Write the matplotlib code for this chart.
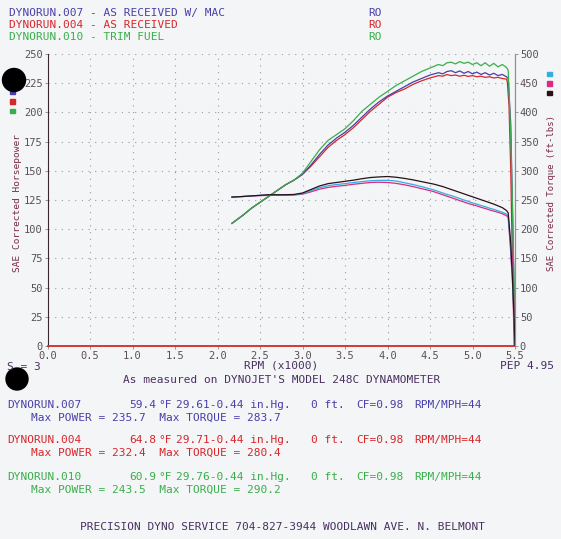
import matplotlib
matplotlib.use("Agg")
from matplotlib import pyplot as plt
from matplotlib.patches import Rectangle, Ellipse

W, H = 561, 539

# shared rpm grid (x1000) for the body of every run
rpm = [2.17, 2.3, 2.4, 2.5, 2.6, 2.7, 2.8, 2.9, 3.0, 3.1, 3.2, 3.3, 3.4, 3.5, 3.6, 3.7,
       3.8, 3.9, 4.0, 4.1, 4.2, 4.3, 4.4, 4.5, 4.55, 4.6, 4.65, 4.7, 4.75, 4.8, 4.85, 4.9,
       4.95, 5.0, 5.05, 5.1, 5.15, 5.2, 5.25, 5.3, 5.35, 5.4]

# horsepower
hp_007 = [105, 112, 118, 123, 128, 133, 138, 142, 147, 155, 164, 172, 178, 183, 189, 196,
          203, 209, 214, 218, 222, 226, 229, 232, 233, 234, 233, 235, 235.7, 234, 235.5, 233.5,
          235, 233, 234.5, 232.5, 234, 232, 233.5, 231.5, 232.5, 230.5]
hp_004 = [105, 112, 118, 123, 128, 133, 138, 142, 147, 154, 162, 170, 176, 181, 187, 194,
          201, 207, 213, 217, 220, 224, 227, 229.5, 230.5, 231.5, 231, 232.4, 231.5, 232, 231, 231.8,
          230.8, 231.5, 230.5, 231, 230, 230.5, 229.5, 230, 229, 228.5]
hp_010 = [105, 112, 118, 123, 128, 133, 138, 142, 148, 158, 168, 176, 181, 186, 193, 201,
          207, 213, 218, 223, 227, 231, 235, 238, 239.5, 241, 240, 242.5, 243, 241.5, 243.5, 242,
          243, 241, 242.5, 240, 242.5, 239.5, 242, 239, 241, 238.5]

# torque (ft-lbs)
tq_007 = [255, 256, 257, 258, 258.5, 258.5, 258.5, 259, 261, 266, 271, 274.5, 276.5, 278, 280, 281.5,
          283, 283.5, 283.7, 282.5, 279.5, 276.5, 273, 269, 267, 264.5, 262, 259.5, 257.5, 255, 252.5, 250,
          247.5, 245, 243, 240.5, 238.5, 236, 234, 231.5, 229, 226]
tq_004 = [255, 256, 257, 257.5, 258, 258, 258, 258.5, 260, 264, 268.5, 271.5, 273.5, 275, 277, 278.5,
          280, 280.4, 280, 278.5, 276, 273, 269.5, 266, 264, 261.5, 259, 256.5, 254, 251.5, 249, 246.5,
          244, 242, 240, 237.5, 235.5, 233, 231, 229, 226.5, 223]
tq_010 = [255, 256, 257, 258, 259, 259, 259, 259.5, 262, 268, 274, 278, 280, 282, 284, 286.5,
          288.5, 289.5, 290.2, 289, 287, 284.5, 281.5, 278.5, 277, 275, 273, 270.5, 268, 265.5, 263, 260.5,
          258, 255.5, 253, 250.5, 248, 245.5, 243, 240, 237, 232]

# end-of-pull drop off
hp_007_tail_rpm, hp_007_tail = [5.42, 5.45, 5.47, 5.49, 5.5], [229, 190, 120, 40, 0]
hp_004_tail_rpm, hp_004_tail = [5.41, 5.43, 5.45, 5.47, 5.49], [226, 205, 150, 70, 0]
hp_010_tail_rpm, hp_010_tail = [5.42, 5.45, 5.47, 5.49, 5.5], [236, 180, 120, 50, 0]
tq_007_tail_rpm, tq_007_tail = [5.42, 5.45, 5.47, 5.49, 5.5], [222, 170, 110, 40, 0]
tq_004_tail_rpm, tq_004_tail = [5.42, 5.45, 5.46, 5.47, 5.49, 5.5], [220, 160, 135, 150, 60, 0]
tq_010_tail_rpm, tq_010_tail = [5.42, 5.45, 5.47, 5.49, 5.5], [228, 175, 115, 45, 0]

x_ticks = [0.0, 0.5, 1.0, 1.5, 2.0, 2.5, 3.0, 3.5, 4.0, 4.5, 5.0, 5.5]
hp_ticks = list(range(0, 251, 25))
tq_ticks = list(range(0, 501, 50))

runs = ["DYNORUN.007", "DYNORUN.004", "DYNORUN.010"]
run_titles = ["AS RECEIVED W/ MAC", "AS RECEIVED", "TRIM FUEL"]
temps = ["59.4", "64.8", "60.9"]
baro = ["29.61-0.44 in.Hg.", "29.71-0.44 in.Hg.", "29.76-0.44 in.Hg."]
max_power = [235.7, 232.4, 243.5]
max_torque = [283.7, 280.4, 290.2]

C_BLUE, C_RED, C_GREEN = "#4a3fa8", "#d8262a", "#3aae4a"
C_CYAN, C_MAG, C_BLK = "#33aee0", "#dc2a82", "#2a1018"
C_TEXT = "#4a3060"
C_LAB = "#7a2a40"
C_TICK = "#5a5058"
BG = "#f3f5f7"
MONO = "DejaVu Sans Mono"


def fx(px):
    return px / W


def fy(py):
    return 1 - py / H


def ftext(x, y, s, color, size=8, **kw):
    fig.text(fx(x), fy(y), s, color=color, fontsize=size, family=MONO, va="center", **kw)


fig = plt.figure(figsize=(W / 100, H / 100), dpi=100, facecolor=BG)
ax = fig.add_axes([fx(47.5), fy(346), fx(515) - fx(47.5), fy(54) - fy(346)])
ax.set_facecolor(BG)
ax.set_xlim(0, 5.5)
ax.set_ylim(0, 250)
ax.set_xticks(x_ticks)
ax.set_xticklabels(["%.1f" % v for v in x_ticks], family=MONO, fontsize=7.5, color=C_TICK)
ax.set_yticks(hp_ticks)
ax.set_yticklabels([str(v) for v in hp_ticks], family=MONO, fontsize=7.5, color=C_TICK)
ax.tick_params(length=2, width=0.6, color="#888888", pad=1.5)
ax.grid(True, linestyle=(0, (1, 5)), color="#9a9aa2", linewidth=0.8)
ax.spines["top"].set_visible(False)
ax.spines["left"].set_color("#3a2a30")
ax.spines["bottom"].set_color("#d8262a")
ax.spines["bottom"].set_linewidth(1.3)
ax.spines["right"].set_color("#909090")

ax.plot(rpm + hp_004_tail_rpm, hp_004 + hp_004_tail, color=C_RED, lw=0.9)
ax.plot(rpm + hp_007_tail_rpm, hp_007 + hp_007_tail, color=C_BLUE, lw=0.9)
ax.plot(rpm + hp_010_tail_rpm, hp_010 + hp_010_tail, color=C_GREEN, lw=0.9)

ax2 = ax.twinx()
ax2.set_ylim(0, 500)
ax2.set_yticks(tq_ticks)
ax2.set_yticklabels([str(v) for v in tq_ticks], family=MONO, fontsize=7.5, color=C_TICK)
ax2.tick_params(length=2, width=0.6, color="#888888", pad=1.5)
for s in ["top", "left", "bottom"]:
    ax2.spines[s].set_visible(False)
ax2.spines["right"].set_color("#909090")
ax2.plot(rpm + tq_004_tail_rpm, tq_004 + tq_004_tail, color=C_MAG, lw=0.9)
ax2.plot(rpm + tq_007_tail_rpm, tq_007 + tq_007_tail, color=C_CYAN, lw=0.9)
ax2.plot(rpm + tq_010_tail_rpm, tq_010 + tq_010_tail, color=C_BLK, lw=0.9)

# axis titles
fig.text(fx(18), fy(203), "SAE Corrected Horsepower", rotation=90, color=C_LAB, fontsize=6.8,
         family=MONO, ha="center", va="center")
fig.text(fx(551), fy(193), "SAE Corrected Torque (ft-lbs)", rotation=90, color=C_LAB, fontsize=6.5,
         family=MONO, ha="center", va="center")

# header
hp_colors = [C_BLUE, C_RED, C_GREEN]
for i, (r, t) in enumerate(zip(runs, run_titles)):
    y = 13 + 12 * i
    ftext(9, y, r + " - " + t, hp_colors[i])
    ftext(368, y, "RO", hp_colors[i])

# little colour keys beside the axes
for i, c in enumerate(hp_colors):
    fig.patches.append(Rectangle((fx(10), fy(94 + 9.5 * i)), 5 / W, 4 / H, color=c,
                                 transform=fig.transFigure))
for i, c in enumerate([C_CYAN, C_MAG, C_BLK]):
    fig.patches.append(Rectangle((fx(547), fy(76 + 9.5 * i)), 5 / W, 4 / H, color=c,
                                 transform=fig.transFigure))

# footer block
ftext(7, 367, "S = 3", C_TEXT)
ftext(281, 366, "RPM (x1000)", C_TEXT, ha="center")
ftext(500, 366, "PEP 4.95", C_TEXT)
ftext(282, 380, "As measured on DYNOJET'S MODEL 248C DYNAMOMETER", C_TEXT, ha="center")

block_y = [405, 440, 477]
for i in range(3):
    y = block_y[i]
    c = hp_colors[i]
    ftext(7, y, runs[i], c)
    ftext(129, y, temps[i], c)
    ftext(158, y, "\u00b0F", c)
    ftext(176, y, baro[i], c)
    ftext(311, y, "0 ft.", c)
    ftext(356, y, "CF=0.98", c)
    ftext(414, y, "RPM/MPH=44", c)
    ftext(31, y + 12.5, "Max POWER = %.1f  Max TORQUE = %.1f" % (max_power[i], max_torque[i]), c)

ftext(282, 527, "PRECISION DYNO SERVICE 704-827-3944 WOODLAWN AVE. N. BELMONT", C_TEXT, ha="center")

# punched holes
fig.patches.append(Ellipse((fx(14), fy(80)), 23 / W, 23 / H, color="black", transform=fig.transFigure))
fig.patches.append(Ellipse((fx(17), fy(379)), 22 / W, 22 / H, color="black", transform=fig.transFigure))

fig.savefig("out.png", dpi=100, facecolor=BG)
